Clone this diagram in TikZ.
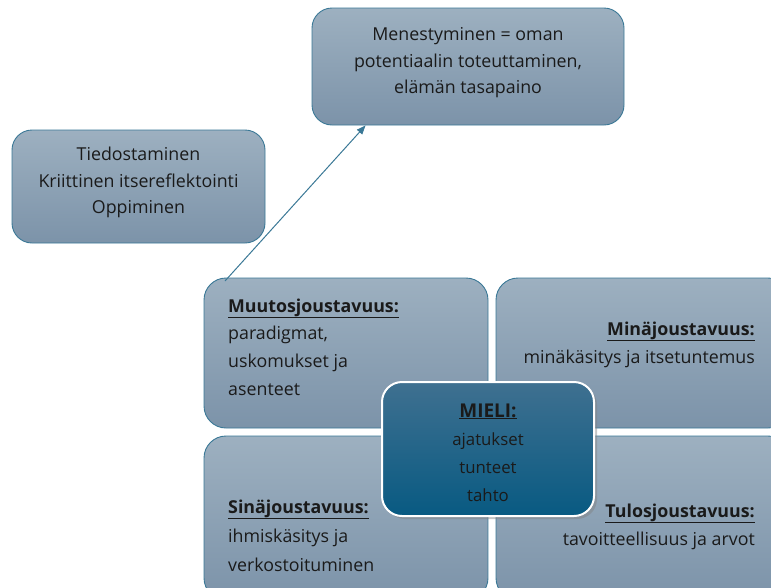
\documentclass[tikz,border=0pt]{standalone}
\usepackage{fontspec}
\setmainfont{Open Sans}
\usetikzlibrary{arrows.meta,calc,shadows}
\definecolor{edge}{HTML}{3A7896}
\definecolor{paletop}{HTML}{9DB0C0}
\definecolor{palebot}{HTML}{7C93A9}
\definecolor{deeptop}{HTML}{3F7090}
\definecolor{deepbot}{HTML}{085A82}
\definecolor{ink}{HTML}{1A1A1A}
\tikzset{
  pale/.style={draw=edge, line width=0.9pt, top color=paletop, bottom color=palebot,
    rounded corners=#1, inner sep=0pt},
  pale/.default=22pt,
  deep/.style={draw=white, line width=2pt, top color=deeptop, bottom color=deepbot,
    rounded corners=20pt, inner sep=0pt,
    drop shadow={opacity=0.45, shadow xshift=3pt, shadow yshift=-3pt}},
  txt/.style={text=ink, font=\fontsize{17.8}{22}\selectfont, inner sep=0pt},
  head/.style={txt, font=\fontsize{17.8}{22}\selectfont\bfseries},
  small/.style={text=ink, font=\fontsize{16.8}{20}\selectfont, inner sep=0pt, anchor=base},
  link/.style={draw=edge, line width=1pt, -{Triangle[length=9pt,width=7pt]}}
}
\newcommand{\ul}[1]{\underline{#1}}
\begin{document}
\begin{tikzpicture}[x=1pt,y=-1pt]
\useasboundingbox (0,0) rectangle (771,587);
\clip (0,0) rectangle (771,587);

% goal and awareness boxes
\node[pale=20pt, minimum width=312pt, minimum height=117pt] (goal) at (468,66.5) {};
\node[txt, anchor=base] (g1) at (468,40) {Menestyminen = oman};
\node[txt, anchor=base] (g2) at (468,67) {potentiaalin toteuttaminen,};
\node[txt, anchor=base] (g3) at (468,93) {elämän tasapaino};

\node[pale=20pt, minimum width=253pt, minimum height=113pt] (aware) at (138.5,186.5) {};
\node[txt, anchor=base] (a1) at (138.5,160) {Tiedostaminen};
\node[txt, anchor=base] (a2) at (138.5,187) {Kriittinen itsereflektointi};
\node[txt, anchor=base] (a3) at (138.5,213) {Oppiminen};

% four flexibility quadrants
\node[pale, minimum width=284pt, minimum height=150pt] (change) at (346,353) {};
\node[pale, minimum width=294pt, minimum height=150pt] (self) at (643,353) {};
\node[pale, minimum width=284pt, minimum height=164pt] (you) at (346,518) {};
\node[pale, minimum width=294pt, minimum height=164pt] (result) at (643,518) {};

\node[head, anchor=base west] (c1) at (228,312) {\ul{Muutosjoustavuus:}};
\node[txt, anchor=base west] (c2) at (228,339.5) {paradigmat,};
\node[txt, anchor=base west] (c3) at (228,367) {uskomukset ja};
\node[txt, anchor=base west] (c4) at (228,395) {asenteet};

\node[head, anchor=base east] (s1) at (755,335) {\ul{Minäjoustavuus:}};
\node[txt, anchor=base east] (s2) at (755,363) {minäkäsitys ja itsetuntemus};

\node[head, anchor=base west] (y1) at (228,513) {\ul{Sinäjoustavuus:}};
\node[txt, anchor=base west] (y2) at (228,542.5) {ihmiskäsitys ja};
\node[txt, anchor=base west] (y3) at (228,571.5) {verkostoituminen};

\node[head, anchor=base east] (r1) at (755,517) {\ul{Tulosjoustavuus:}};
\node[txt, anchor=base east] (r2) at (755,545) {tavoitteellisuus ja arvot};

% mind at the centre
\node[deep, minimum width=212pt, minimum height=134pt] (mind) at (488,449) {};
\node[text=ink, inner sep=0pt, anchor=base, font=\fontsize{19}{22}\selectfont\bfseries]
  (m0) at (488,417) {\ul{MIELI:}};
\node[small] (m1) at (488,445) {ajatukset};
\node[small] (m2) at (488,473) {tunteet};
\node[small] (m3) at (488,501) {tahto};

% arrow from the change quadrant to the goal
\coordinate (tail) at (225,281);
\draw[link] (tail) -- ($(goal.south west)+(54,0)$);
\end{tikzpicture}
\end{document}
